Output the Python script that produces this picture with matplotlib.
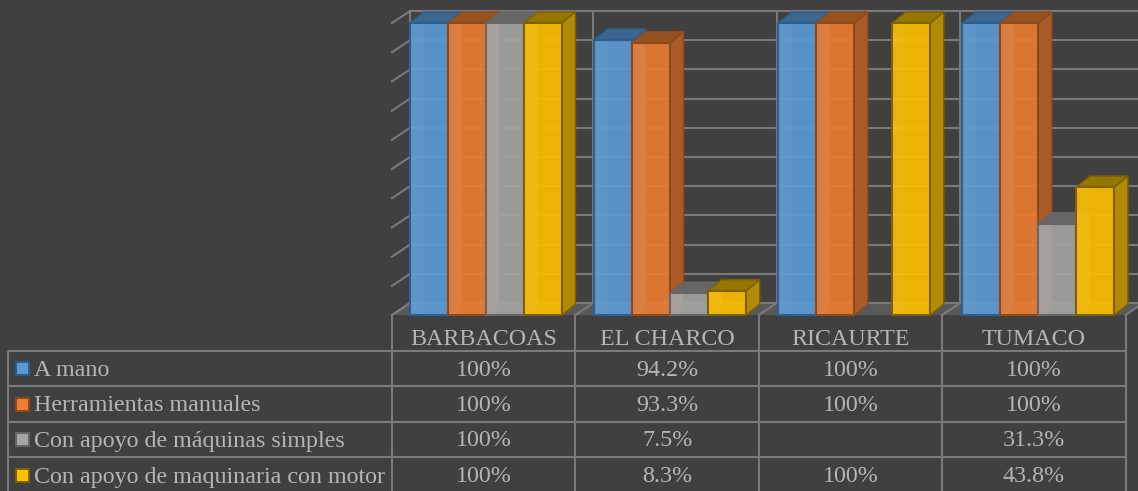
import matplotlib
matplotlib.use('Agg')
import matplotlib.pyplot as plt
from matplotlib.patches import Polygon, Rectangle

plt.rcParams['font.family'] = ['Liberation Serif', 'DejaVu Serif']

# data
categories = ['BARBACOAS', 'EL CHARCO', 'RICAURTE', 'TUMACO']
series_names = ['A mano', 'Herramientas manuales', 'Con apoyo de máquinas simples',
                'Con apoyo de maquinaria con motor']
a_mano = [100, 94.2, 100, 100]
herramientas = [100, 93.3, 100, 100]
maquinas_simples = [100, 7.5, None, 31.3]
maquinaria_motor = [100, 8.3, 100, 43.8]
cell_a_mano = ['100%', '94.2%', '100%', '100%']
cell_herramientas = ['100%', '93.3%', '100%', '100%']
cell_simples = ['100%', '7.5%', '', '31.3%']
cell_motor = ['100%', '8.3%', '100%', '43.8%']

series = [a_mano, herramientas, maquinas_simples, maquinaria_motor]
cells = [cell_a_mano, cell_herramientas, cell_simples, cell_motor]

# colours: front, edge, top, side
front_col = ['#5B9BD5', '#ED7D31', '#A5A5A5', '#FFC000']
edge_col = ['#2C5F8F', '#8F4A1B', '#666666', '#7F6200']
top_col = ['#3B668F', '#96521F', '#666666', '#967600']
side_col = ['#3B668F', '#A85A29', '#666666', '#B28A0A']
bg = '#404040'
line_col = '#7A7A7A'
txt_col = '#B5B5B5'

W, H = 1138, 491
fig = plt.figure(figsize=(W / 100, H / 100), dpi=100, facecolor=bg)

# pixel axes for the data table under the chart
tab = fig.add_axes([0, 0, 1, 1], zorder=1)
tab.set_xlim(0, W)
tab.set_ylim(H, 0)
tab.axis('off')

# bar axes: x in category units, y in percent
cat_px = 183.4
left_px, base_px, h_px = 392, 315, 292
ax = fig.add_axes([left_px / W, (H - base_px) / H, 4 * cat_px / W, h_px / H], zorder=2)
ax.set_xlim(0, 4)
ax.set_ylim(0, 100)
ax.axis('off')
ax.patch.set_alpha(0)

wall_dx = 18 / cat_px
wall_dy = 12 / h_px * 100
bar_dx = 13.5 / cat_px
bar_dy = 11 / h_px * 100
bar_w = 38 / cat_px

# floor
ax.add_patch(Polygon([(0, 0), (4, 0), (4 + wall_dx, wall_dy), (wall_dx, wall_dy)],
                     fc='#595959', ec='none', clip_on=False, zorder=1))

# back wall grid
for v in range(0, 101, 10):
    ax.plot([wall_dx, 4 + wall_dx], [v + wall_dy, v + wall_dy], color=line_col, lw=1.5,
            clip_on=False, zorder=2)
    ax.plot([0, wall_dx], [v, v + wall_dy], color=line_col, lw=1.5, clip_on=False, zorder=2)
for i in range(5):
    ax.plot([i + wall_dx, i + wall_dx], [wall_dy, 100 + wall_dy], color=line_col, lw=1.5,
            clip_on=False, zorder=2)
    ax.plot([i, i + wall_dx], [0, wall_dy], color=line_col, lw=1.5, clip_on=False, zorder=2)

# bars
z = 3
for c in range(4):
    for s in range(4):
        v = series[s][c]
        if v is None:
            continue
        x0 = c + wall_dx + s * bar_w + 0.004 * c
        x1 = x0 + bar_w
        ax.add_patch(Polygon([(x1, 0), (x1 + bar_dx, bar_dy), (x1 + bar_dx, v + bar_dy), (x1, v)],
                             fc=side_col[s], ec=edge_col[s], lw=1.0, clip_on=False, zorder=z))
        ax.add_patch(Polygon([(x0, v), (x0 + bar_dx, v + bar_dy), (x1 + bar_dx, v + bar_dy), (x1, v)],
                             fc=top_col[s], ec=edge_col[s], lw=1.0, clip_on=False, zorder=z))
        ax.bar(x0, v, width=bar_w, align='edge', color=front_col[s], alpha=0.9, zorder=z + 1, clip_on=False)
        # lighter strip on the left part of the face
        ax.add_patch(Rectangle((x0, 0), bar_w * 0.33, v, fc='white', alpha=0.04, ec='none',
                               clip_on=False, zorder=z + 1))
        ax.bar(x0, v, width=bar_w, align='edge', fill=False, edgecolor=edge_col[s], lw=1.5,
               zorder=z + 1, clip_on=False)
        z += 2

# table
col_x = [392, 575.4, 758.8, 942.2, 1125.6]
row_y = [351, 386, 422, 457, 494]
fs = 17.3
for x in col_x:
    tab.plot([x, x], [315, 491], color=line_col, lw=1.5, solid_capstyle='butt')
tab.plot([8, 8], [351, 491], color=line_col, lw=1.5, solid_capstyle='butt')
for y in row_y:
    tab.plot([8, col_x[-1]], [y, y], color=line_col, lw=1.5, solid_capstyle='butt')

for c, name in enumerate(categories):
    tab.text((col_x[c] + col_x[c + 1]) / 2, 339.5, name, color=txt_col, fontsize=fs,
             ha='center', va='center')

for r, name in enumerate(series_names):
    yc = (row_y[r] + row_y[r + 1]) / 2
    tab.add_patch(Rectangle((16.5, yc - 6.5), 13, 13, fc=front_col[r], ec=edge_col[r], lw=1.4))
    tab.text(34, yc + 1.5, name, color=txt_col, fontsize=fs, ha='left', va='center')
    for c in range(4):
        tab.text((col_x[c] + col_x[c + 1]) / 2, yc + 1.5, cells[r][c], color=txt_col, fontsize=fs,
                 ha='center', va='center')

fig.savefig('out.png', dpi=100, facecolor=bg)
